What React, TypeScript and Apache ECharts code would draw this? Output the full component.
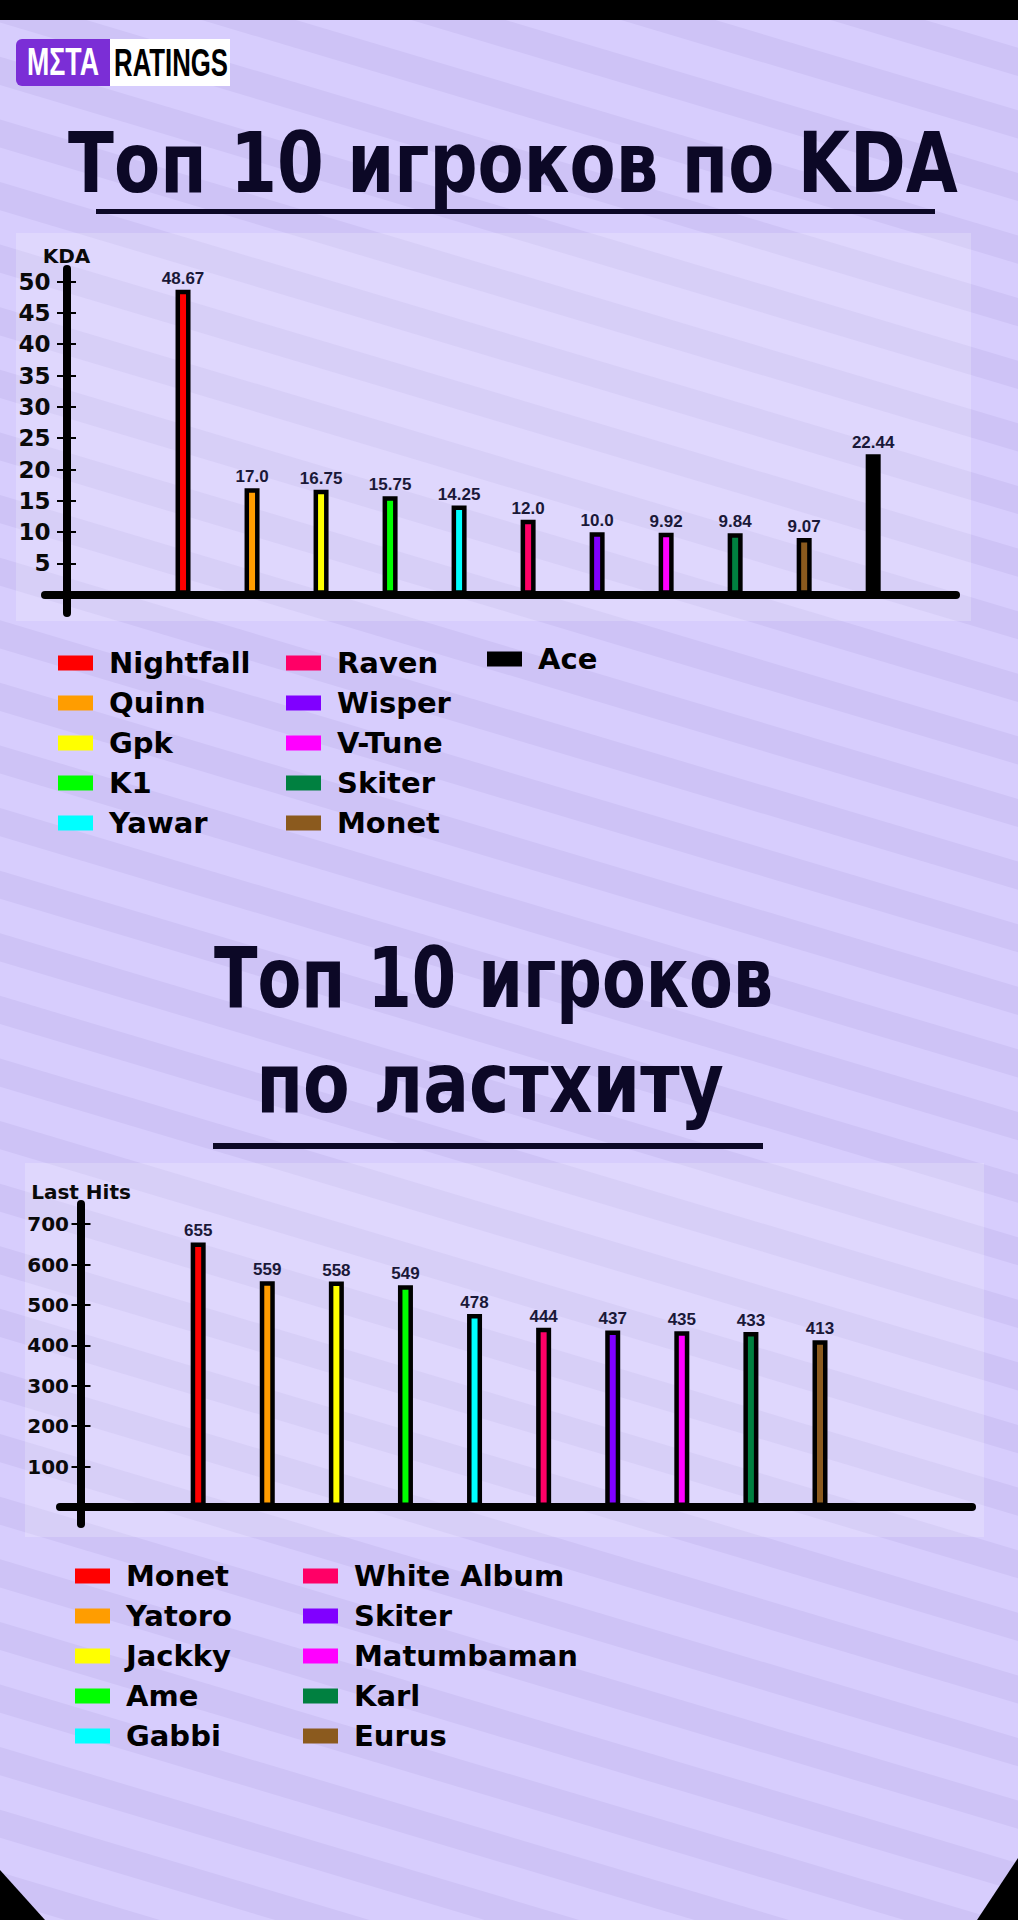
import React, { useEffect, useRef } from "react";
import * as echarts from "echarts";

// ---------- data ----------
const kdaPlayers = ["Nightfall", "Quinn", "Gpk", "K1", "Yawar", "Raven", "Wisper", "V-Tune", "Skiter", "Monet", "Ace"];
const kdaValues = [48.67, 17.0, 16.75, 15.75, 14.25, 12.0, 10.0, 9.92, 9.84, 9.07, 22.44];
const kdaColors = ["#ff0000", "#ff9d00", "#ffff00", "#00ff00", "#00ffff", "#ff0066", "#8000ff", "#ff00ff", "#008040", "#8b5a1e", "#000000"];
const kdaTicks = [5, 10, 15, 20, 25, 30, 35, 40, 45, 50];
const kdaLegendColumns = [
  ["Nightfall", "Quinn", "Gpk", "K1", "Yawar"],
  ["Raven", "Wisper", "V-Tune", "Skiter", "Monet"],
  ["Ace"],
];

const lhPlayers = ["Monet", "Yatoro", "Jackky", "Ame", "Gabbi", "White Album", "Skiter", "Matumbaman", "Karl", "Eurus"];
const lhValues = [655, 559, 558, 549, 478, 444, 437, 435, 433, 413];
const lhColors = ["#ff0000", "#ff9d00", "#ffff00", "#00ff00", "#00ffff", "#ff0066", "#8000ff", "#ff00ff", "#008040", "#8b5a1e"];
const lhTicks = [100, 200, 300, 400, 500, 600, 700];
const lhLegendColumns = [
  ["Monet", "Yatoro", "Jackky", "Ame", "Gabbi"],
  ["White Album", "Skiter", "Matumbaman", "Karl", "Eurus"],
];

const title1 = "Топ 10 игроков по KDA";
const title2a = "Топ 10 игроков";
const title2b = "по ластхиту";

// ---------- styles ----------
const NAVY = "#0c0826";
const BG_LIGHT = "#d7cdfd";
const BG_DARK = "#cec3f6";
const TITLE_FONT = 'bold 84px "DejaVu Sans"';
const LOGO_FONT = 'bold 39px "Liberation Sans"';

function fitScale(text: string, font: string, target: number): number {
  const c = document.createElement("canvas");
  const ctx = c.getContext("2d");
  if (!ctx) return 1;
  ctx.font = font;
  const w = ctx.measureText(text).width;
  return w > 0 ? target / w : 1;
}

function titleText(text: string, x: number, y: number, width: number, font: string, fill: string) {
  return {
    type: "text",
    x,
    y,
    scaleX: fitScale(text, font, width),
    z: 5,
    style: { text, font, fill, align: "center", verticalAlign: "middle" },
  };
}

function yAxes(gridIndex: number, min: number, max: number, ticks: number[], offset: number, name: string, labelSize: number, margin: number, nameGap: number) {
  const main = {
    type: "value",
    gridIndex,
    min,
    max,
    position: "left",
    offset,
    z: 5,
    name,
    nameLocation: "end",
    nameGap,
    nameTextStyle: { fontFamily: "DejaVu Sans", fontWeight: "bold", fontSize: 20, color: "#0a0a0a" },
    axisLine: { show: true, onZero: false, lineStyle: { color: "#000", width: 8 } },
    axisTick: { show: true, length: 9.5, customValues: ticks, lineStyle: { color: "#000", width: 2 } },
    axisLabel: { show: true, customValues: ticks, margin, fontFamily: "DejaVu Sans", fontWeight: "bold", fontSize: labelSize, color: "#0a0a0a" },
    splitLine: { show: false },
  };
  const inner = {
    type: "value",
    gridIndex,
    min,
    max,
    position: "left",
    offset,
    z: 5,
    axisLine: { show: false, onZero: false },
    axisTick: { show: true, inside: true, length: 9.5, customValues: ticks, lineStyle: { color: "#000", width: 2 } },
    axisLabel: { show: false },
    splitLine: { show: false },
  };
  return [main, inner];
}

function xAxis(gridIndex: number) {
  return {
    type: "value",
    gridIndex,
    min: -2,
    max: 11.2,
    z: 5,
    axisLine: { show: true, onZero: true, lineStyle: { color: "#000", width: 8 } },
    axisTick: { show: false },
    axisLabel: { show: false },
    splitLine: { show: false },
  };
}

function barSeries(names: string[], values: number[], colors: string[], xi: number, yi: number, fmt: (v: number) => string) {
  return names.map((name, i) => ({
    type: "bar",
    name,
    xAxisIndex: xi,
    yAxisIndex: yi,
    barWidth: 15,
    barGap: "-100%",
    data: [[i, values[i]]],
    itemStyle: { color: colors[i], borderColor: "#000", borderWidth: 4.5 },
    label: {
      show: true,
      position: "top",
      distance: 3,
      formatter: (p: any) => fmt(p.value[1]),
      fontFamily: "Liberation Sans",
      fontWeight: "bold",
      fontSize: 17,
      color: "#1a1838",
    },
    emphasis: { disabled: true },
  }));
}

function legend(names: string[], allNames: string[], colors: string[], left: number, top: number) {
  return {
    left,
    top,
    orient: "vertical",
    padding: 0,
    itemWidth: 35,
    itemHeight: 15,
    itemGap: 10,
    icon: "rect",
    selectedMode: false,
    textStyle: { fontFamily: "DejaVu Sans", fontWeight: "bold", fontSize: 29, lineHeight: 30, color: "#000", padding: [0, 0, 0, 11] },
    data: names.map((n) => ({ name: n, itemStyle: { color: colors[allNames.indexOf(n)], borderWidth: 0 } })),
  };
}

export default function App() {
  const ref = useRef<HTMLDivElement>(null);

  useEffect(() => {
    document.body.style.margin = "0";
    if (!ref.current) return;
    const chart = echarts.init(ref.current, undefined, { renderer: "svg" });

    const stripes: any[] = [];
    for (let k = -22; k <= 22; k++) {
      stripes.push({ type: "rect", z: -10, shape: { x: -1300, y: k * 60, width: 2600, height: 27 }, style: { fill: BG_DARK } });
    }

    const graphic: any[] = [
      { type: "group", x: 509, y: 960, rotation: -0.29, z: -10, silent: true, children: stripes },
      { type: "rect", z: -5, shape: { x: 16, y: 233, width: 955, height: 388 }, style: { fill: "rgba(255,255,255,0.2)" } },
      { type: "rect", z: -5, shape: { x: 25, y: 1163, width: 959, height: 374 }, style: { fill: "rgba(255,255,255,0.2)" } },
      { type: "rect", z: 10, shape: { x: 0, y: 0, width: 1018, height: 20 }, style: { fill: "#000" } },
      { type: "polygon", z: 10, shape: { points: [[0, 1870], [0, 1920], [45, 1920]] }, style: { fill: "#000" } },
      { type: "polygon", z: 10, shape: { points: [[1018, 1858], [1018, 1920], [977, 1920]] }, style: { fill: "#000" } },
      // logo
      { type: "rect", z: 5, shape: { x: 16, y: 39, width: 94, height: 47, r: [6, 0, 0, 6] }, style: { fill: "#7b2ed6" } },
      { type: "rect", z: 5, shape: { x: 110, y: 39, width: 120, height: 47 }, style: { fill: "#ffffff" } },
      titleText("MΣTA", 63, 62, 72, LOGO_FONT, "#ffffff"),
      titleText("RATINGS", 171, 62, 114, LOGO_FONT, "#000000"),
      // titles
      titleText(title1, 513, 162.5, 890, TITLE_FONT, NAVY),
      { type: "line", z: 5, shape: { x1: 96, y1: 211.5, x2: 935, y2: 211.5 }, style: { stroke: NAVY, lineWidth: 5 } },
      titleText(title2a, 493.5, 978.5, 559, TITLE_FONT, NAVY),
      titleText(title2b, 490, 1082.5, 468, TITLE_FONT, NAVY),
      { type: "line", z: 5, shape: { x1: 213, y1: 1146, x2: 763, y2: 1146 }, style: { stroke: NAVY, lineWidth: 6 } },
    ];

    const kdaFmt = (v: number) => (Number.isInteger(v) ? v.toFixed(1) : String(v));
    const lhFmt = (v: number) => String(v);

    chart.setOption({
      animation: false,
      backgroundColor: BG_LIGHT,
      graphic,
      grid: [
        { left: 45, top: 269, width: 911, height: 344 },
        { left: 60, top: 1204, width: 912, height: 320 },
      ],
      xAxis: [xAxis(0), xAxis(1)],
      yAxis: [
        ...yAxes(0, -2.9, 52, kdaTicks, -21.5, "KDA", 23, 16, 3),
        ...yAxes(1, -42, 750, lhTicks, -21, "Last Hits", 20, 12, 2),
      ],
      legend: [
        legend(kdaLegendColumns[0], kdaPlayers, kdaColors, 58, 648),
        legend(kdaLegendColumns[1], kdaPlayers, kdaColors, 286, 648),
        legend(kdaLegendColumns[2], kdaPlayers, kdaColors, 487, 644),
        legend(lhLegendColumns[0], lhPlayers, lhColors, 75, 1561),
        legend(lhLegendColumns[1], lhPlayers, lhColors, 303, 1561),
      ],
      series: [
        ...barSeries(kdaPlayers, kdaValues, kdaColors, 0, 0, kdaFmt),
        ...barSeries(lhPlayers, lhValues, lhColors, 1, 2, lhFmt),
      ],
    });

    return () => chart.dispose();
  }, []);

  return <div ref={ref} style={{ width: 1018, height: 1920 }} />;
}
